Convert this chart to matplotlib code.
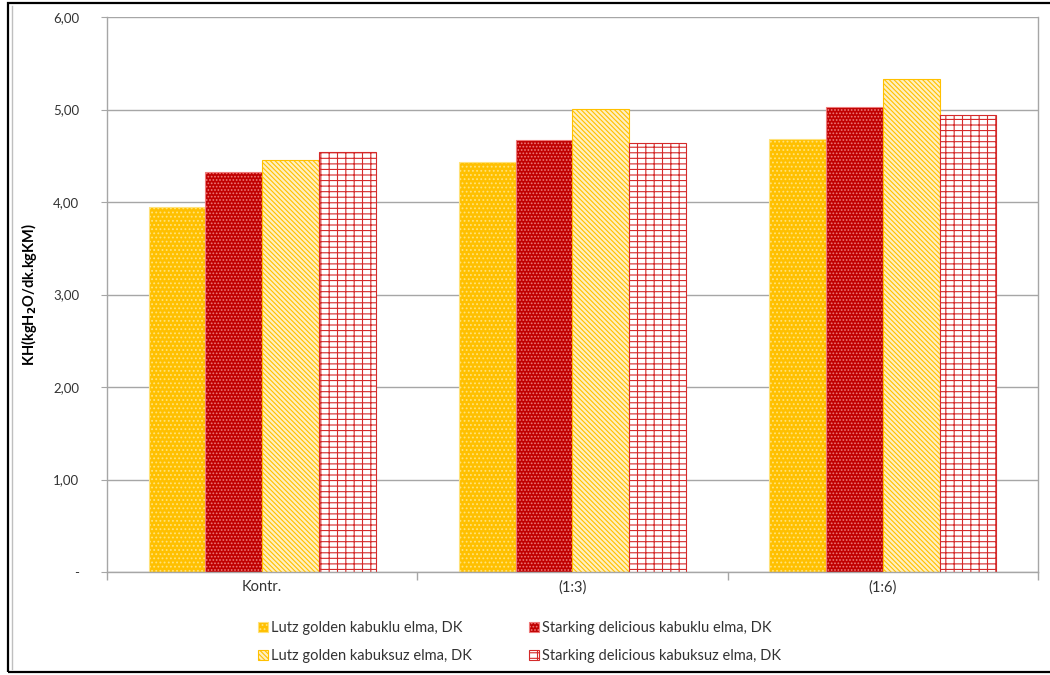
import matplotlib
matplotlib.use("Agg")
import matplotlib.pyplot as plt
import numpy as np
from matplotlib.patches import Rectangle
from matplotlib.lines import Line2D
from matplotlib.ticker import FixedLocator, FuncFormatter

plt.rcParams['font.family'] = ['Lato', 'DejaVu Sans']
plt.rcParams['hatch.linewidth'] = 0.8

categories = ['Kontr.', '(1:3)', '(1:6)']
series_names = ['Lutz golden kabuklu elma, DK',
                'Starking delicious kabuklu elma, DK',
                'Lutz golden kabuksuz elma, DK',
                'Starking delicious kabuksuz elma, DK']
lutz_kabuklu = [3.95, 4.43, 4.68]
starking_kabuklu = [4.32, 4.67, 5.03]
lutz_kabuksuz = [4.45, 5.01, 5.33]
starking_kabuksuz = [4.54, 4.64, 4.94]
yticks = [0, 1, 2, 3, 4, 5, 6]

series = [lutz_kabuklu, starking_kabuklu, lutz_kabuksuz, starking_kabuksuz]
styles = [
    dict(facecolor='#FFC000', edgecolor='#FFE27A', hatch='....'),
    dict(facecolor='#C00000', edgecolor='#EE7B7B', hatch='.....'),
    dict(facecolor='#FFF0C0', edgecolor='#FFC000', hatch='\\' * 7),
    dict(facecolor='#FFFFFF', edgecolor='#D42A2A', hatch='---||'),
]

fig = plt.figure(figsize=(10.5, 6.75), dpi=100)
ax = fig.add_axes([107/1050, 1-572/675, (1038-107)/1050, (572-17)/675])

x = np.arange(len(categories))
w = 0.183
offsets = (np.arange(4) - 1.5) * w
handles = []
for i, (vals, st) in enumerate(zip(series, styles)):
    b = ax.bar(x + offsets[i], vals, w, linewidth=0.8, label=series_names[i], **st)
    handles.append(b)

ax.set_xlim(-0.5, 2.5)
ax.set_ylim(0, 6)
ax.yaxis.set_major_locator(FixedLocator(yticks))
ax.yaxis.set_major_formatter(FuncFormatter(lambda v, p: '-' if v == 0 else f'{v:.2f}'.replace('.', ',')))
ax.grid(axis='y', color='#A6A6A6', linewidth=1.0)
ax.set_axisbelow(True)

ax.set_xticks(x)
ax.set_xticklabels(categories, fontsize=10.5, color='#333333')
ax.set_xticks([-0.5, 0.5, 1.5, 2.5], minor=True)
ax.tick_params(axis='x', which='major', length=0, pad=6)
ax.tick_params(axis='x', which='minor', length=6, color='#A6A6A6', width=1)
ax.tick_params(axis='y', length=4, color='#A6A6A6', labelsize=9.5, labelcolor='#333333', pad=16)

ax.spines['top'].set_visible(False)
for s in ['left', 'bottom', 'right']:
    ax.spines[s].set_color('#A6A6A6')
    ax.spines[s].set_linewidth(1.0)

ax.set_ylabel(r'KH(kgH$_\mathbf{2}$O/dk.kgKM)', fontsize=10.5, fontweight='bold', labelpad=10)

order = [0, 2, 1, 3]
leg = fig.legend(handles=[handles[i] for i in order], labels=[series_names[i] for i in order],
                 ncol=2, loc='center', bbox_to_anchor=(0.495, 0.0485), frameon=False, fontsize=10.5,
                 handlelength=0.7, handleheight=0.7, handletextpad=0.2,
                 columnspacing=3.9, labelspacing=0.95)
for t in leg.get_texts():
    t.set_color('#333333')

fig.patches.append(Rectangle((8/1050, 3/675), 1.05, 1-6/675, transform=fig.transFigure,
                             fill=False, edgecolor='black', linewidth=1.6, clip_on=False))
fig.lines.append(Line2D([11.5/1050, 11.5/1050], [6/675, 1-6/675], transform=fig.transFigure,
                        color='#BFBFBF', linewidth=1.0))

fig.savefig('out.png', dpi=100, facecolor='white')
